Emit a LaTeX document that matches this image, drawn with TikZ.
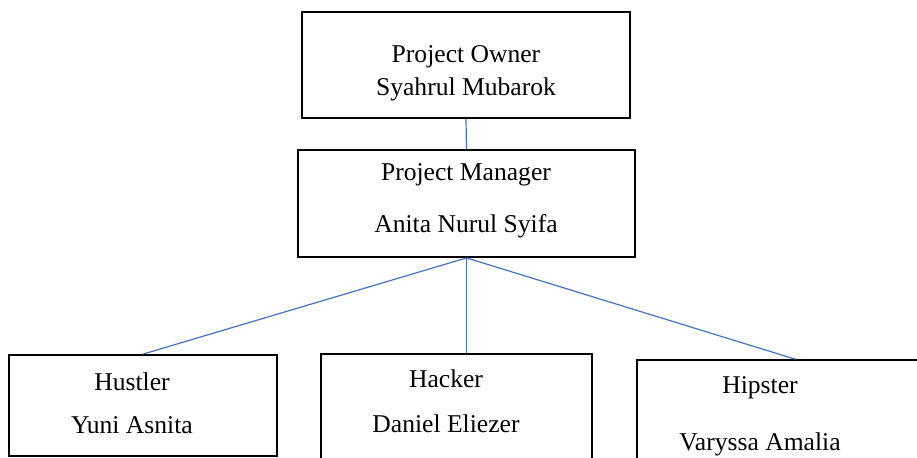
\documentclass[tikz,border=0pt]{standalone}
\usepackage{fontspec}
\setmainfont{Liberation Serif}
\usepackage{xcolor}
\usepackage{tikz}
\definecolor{linkblue}{RGB}{68,114,196}
\tikzstyle{box} = [rectangle, draw=black, line width=0.9pt, inner sep=0pt]
\tikzstyle{roletext} = [align=center, anchor=base, inner sep=0pt, font=\fontsize{12.8}{16.5}\selectfont]
\tikzstyle{link} = [draw=linkblue, line width=0.6pt]
\begin{document}
\begin{tikzpicture}[x=0.5pt,y=-0.5pt]

	\clip (0,0) rectangle (917,457);
	\fill[white] (0,0) rectangle (917,457);

	\node (owner) [box, minimum width=164pt, minimum height=53pt] at (466,65) {};
	\node (manager) [box, minimum width=168.5pt, minimum height=53.5pt] at (466.5,203.5) {};
	\node (hustler) [box, minimum width=134pt, minimum height=50.5pt] at (143,405.5) {};
	\node (hacker) [box, minimum width=135.5pt, minimum height=58pt] at (456.5,412) {};
	\node (hipster) [box, minimum width=158pt, minimum height=55pt] at (795,415) {};

	\node (ownerT) [roletext] at (466,95) {Project Owner\\Syahrul Mubarok};
	\node (managerT) [roletext] at (466,232) {Project Manager\\[9.5pt]Anita Nurul Syifa};
	\node (hustlerT) [roletext] at (132,433) {Hustler\\[5pt]Yuni Asnita};
	\node (hackerT) [roletext] at (446,432) {Hacker\\[6pt]Daniel Eliezer};
	\node (hipsterT) [roletext] at (760,450) {Hipster\\[12pt]Varyssa Amalia};

	\draw [link] (owner.south) -- (manager.north);
	\draw [link] (manager.south) -- (hustler.north);
	\draw [link] (manager.south) -- (manager.south |- hacker.north);
	\draw [link] (manager.south) -- (hipster.north);

\end{tikzpicture}
\end{document}
